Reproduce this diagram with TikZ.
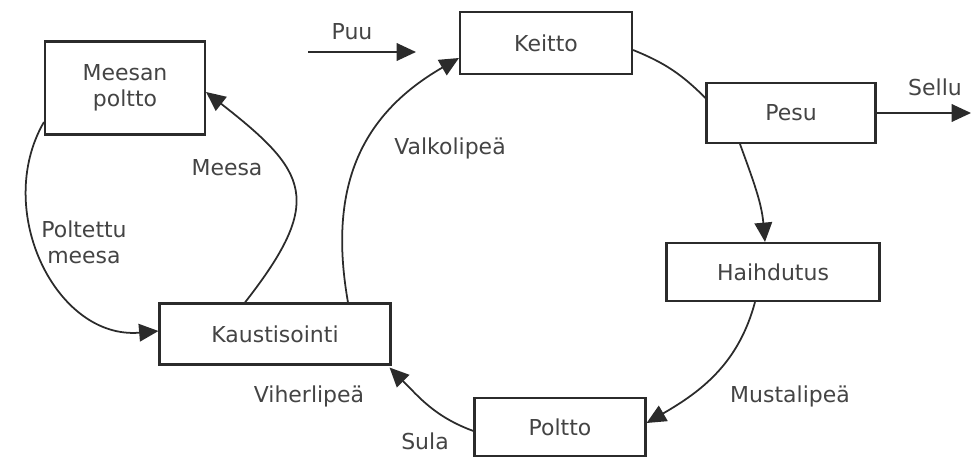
\documentclass[tikz,border=0pt]{standalone}
\usepackage{fontspec}
\setmainfont{DejaVu Sans}
\usepackage{xcolor}
\usetikzlibrary{arrows.meta,positioning,calc}
\definecolor{inkgray}{HTML}{2B2B2B}
\definecolor{txtgray}{HTML}{444444}

\begin{document}
\begin{tikzpicture}[
    stage/.style={rectangle, draw=inkgray, fill=white, line width=1.2pt, minimum width=#1, inner sep=2pt, align=center, font=\fontsize{12.5}{15}\selectfont, text=txtgray},
    flowlbl/.style={font=\fontsize{12.5}{15}\selectfont, text=txtgray, align=center},
    flow/.style={draw=inkgray, line width=1pt, -{Triangle[length=11pt,width=10pt]}},
    plain/.style={draw=inkgray, line width=1pt}
]
\useasboundingbox (0,0) rectangle (19.42,9.14);

% Process boxes
\node[stage=3.2cm, minimum height=1.86cm] (meesan) at (2.50,7.38) {Meesan\\poltto};
\node[stage=3.44cm, minimum height=1.24cm] (keitto) at (10.92,8.28) {Keitto};
\node[stage=3.38cm, minimum height=1.2cm] (pesu) at (15.82,6.88) {Pesu};
\node[stage=4.26cm, minimum height=1.16cm] (haihd) at (15.46,3.70) {Haihdutus};
\node[stage=3.42cm, minimum height=1.16cm] (poltto) at (11.20,0.60) {Poltto};
\node[stage=4.62cm, minimum height=1.22cm] (kaust) at (5.50,2.46) {Kaustisointi};

% Free ends
\coordinate (puu) at (6.16,8.10);
\coordinate (puuend) at (8.32,8.10);
\coordinate (sellu) at (19.42,6.88);

% Main cycle
\draw[flow] (puu) -- (puuend);
\draw[plain] ([yshift=-0.14cm]keitto.east) to[out=-22, in=135] ([yshift=0.3cm]pesu.west);
\draw[flow] (pesu.east) -- (sellu);
\draw[flow] ([xshift=-1.02cm]pesu.south) to[out=-70, in=95] ([xshift=-0.16cm]haihd.north);
\draw[flow] ([xshift=-0.36cm]haihd.south) to[out=-105, in=30] ([yshift=0.08cm]poltto.east);
\draw[flow] ([yshift=-0.08cm]poltto.west) to[out=160, in=-45] ([xshift=-0.04cm,yshift=-0.04cm]kaust.south east);
\draw[flow] ([xshift=1.46cm]kaust.north) to[out=100, in=210, looseness=1.1] ([yshift=-0.3cm]keitto.west);

% Lime cycle
\draw[flow] ([xshift=-0.6cm]kaust.north) to[out=52, in=-38, looseness=1.55] ([yshift=-0.08cm]meesan.east);
\draw[flow] ([yshift=-0.68cm]meesan.west) to[out=240, in=185, looseness=1.1] ([yshift=0.06cm]kaust.west);

% Labels
\node[flowlbl] (lpuu) at (7.04,8.50) {Puu};
\node[flowlbl] (lsellu) at (18.70,7.40) {Sellu};
\node[flowlbl] (lvalko) at (9.00,6.18) {Valkolipeä};
\node[flowlbl] (lmusta) at (15.80,1.22) {Mustalipeä};
\node[flowlbl] (lviher) at (6.18,1.22) {Viherlipeä};
\node[flowlbl] (lsula) at (8.50,0.32) {Sula};
\node[flowlbl] (lmeesa) at (4.54,5.78) {Meesa};
\node[flowlbl] (lpolt) at (1.68,4.30) {Poltettu\\meesa};
\end{tikzpicture}
\end{document}
